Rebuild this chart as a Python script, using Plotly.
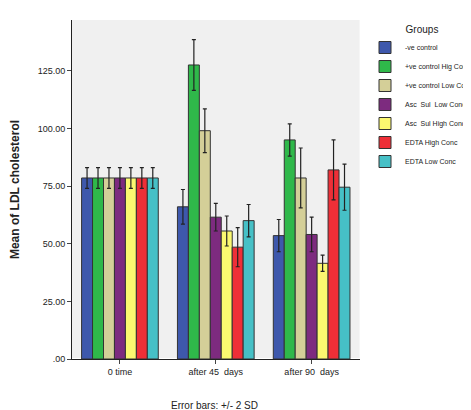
import plotly.graph_objects as go

times = ['0 time', 'after 45  days', 'after 90  days']
groups = ['-ve control', '+ve control Hig Conc', '+ve control Low Conc',
          'Asc  Sul  Low Conc', 'Asc  Sul High Conc', 'EDTA High Conc', 'EDTA Low Conc']
colors = ['#3e58ac', '#2fb84a', '#d4cf98', '#7d2b7f', '#fbf870', '#ee2f37', '#46c0c6']
means = [
    [78.5, 66.0, 53.5],
    [78.5, 127.5, 95.0],
    [78.5, 99.0, 78.5],
    [78.5, 61.5, 54.0],
    [78.5, 55.5, 41.5],
    [78.5, 48.5, 82.0],
    [78.5, 60.0, 74.5],
]
errs = [
    [4.5, 7.5, 7.0],
    [4.5, 11.0, 7.0],
    [4.5, 9.5, 13.0],
    [4.5, 6.0, 7.5],
    [4.5, 6.5, 3.5],
    [4.5, 8.5, 13.0],
    [4.5, 7.0, 10.0],
]

fig = go.Figure()
for name, c, m, e in zip(groups, colors, means, errs):
    fig.add_trace(go.Bar(
        x=times, y=m, name=name, marker_color=c,
        marker_line=dict(color='#333', width=1),
        error_y=dict(type='data', array=e, color='#222', thickness=1.2, width=2),
    ))

fig.update_layout(
    width=471, height=410, barmode='group', bargap=0.2, bargroupgap=0,
    plot_bgcolor='#f0f0f0', paper_bgcolor='white',
    font=dict(family='Liberation Sans, Arial', size=9, color='#222'),
    margin=dict(l=64, r=0, t=12, b=59),
    legend=dict(x=0.76, y=1.0, xanchor='left', yanchor='top', font=dict(size=7),
                bgcolor='rgba(0,0,0,0)',
                title=dict(text='Groups', side='top center', font=dict(size=10)),
                tracegroupgap=0, itemwidth=30),
    yaxis=dict(range=[0, 147], tickvals=[0, 25, 50, 75, 100, 125],
               ticktext=['.00', '25.00', '50.00', '75.00', '100.00', '125.00'],
               showgrid=False, showline=True, linecolor='#222', ticks='outside', ticklen=4,
               title=dict(text='<b>Mean of LDL cholesterol</b>', font=dict(size=12))),
    xaxis=dict(domain=[0, 0.745], showline=True, linecolor='#222', ticks='outside',
               ticklen=4, mirror=False),
    annotations=[dict(text='Error bars: +/- 2 SD', x=0.37, y=-0.115, xref='paper', yref='paper',
                      showarrow=False, yanchor='top', font=dict(size=10))],
)
fig.write_html('out.html')
